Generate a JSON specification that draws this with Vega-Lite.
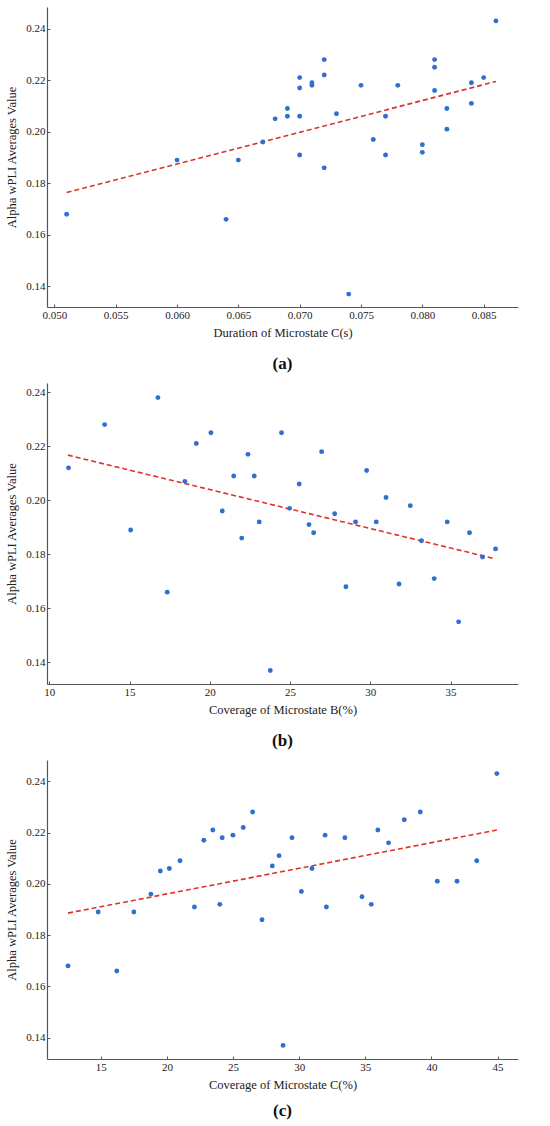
{
  "$schema": "https://vega.github.io/schema/vega-lite/v6.json",
  "padding": {"left": 5, "top": 7, "right": 5, "bottom": 5},
  "datasets": {
    "a": [
      {"x": 0.051, "y": 0.168}, {"x": 0.060, "y": 0.189}, {"x": 0.064, "y": 0.166}, {"x": 0.065, "y": 0.189},
      {"x": 0.067, "y": 0.196}, {"x": 0.068, "y": 0.205}, {"x": 0.069, "y": 0.209}, {"x": 0.069, "y": 0.206},
      {"x": 0.070, "y": 0.221}, {"x": 0.070, "y": 0.217}, {"x": 0.070, "y": 0.206}, {"x": 0.070, "y": 0.191},
      {"x": 0.071, "y": 0.219}, {"x": 0.071, "y": 0.218}, {"x": 0.072, "y": 0.228}, {"x": 0.072, "y": 0.222},
      {"x": 0.072, "y": 0.186}, {"x": 0.073, "y": 0.207}, {"x": 0.074, "y": 0.137}, {"x": 0.075, "y": 0.218},
      {"x": 0.076, "y": 0.197}, {"x": 0.077, "y": 0.206}, {"x": 0.077, "y": 0.191}, {"x": 0.078, "y": 0.218},
      {"x": 0.080, "y": 0.195}, {"x": 0.080, "y": 0.192}, {"x": 0.081, "y": 0.228}, {"x": 0.081, "y": 0.225},
      {"x": 0.081, "y": 0.216}, {"x": 0.082, "y": 0.209}, {"x": 0.082, "y": 0.201}, {"x": 0.084, "y": 0.219},
      {"x": 0.084, "y": 0.211}, {"x": 0.085, "y": 0.221}, {"x": 0.086, "y": 0.243}
    ],
    "fit_a": [{"x": 0.051, "y": 0.1764}, {"x": 0.086, "y": 0.2195}],
    "b": [
      {"x": 11.2, "y": 0.212}, {"x": 13.45, "y": 0.228}, {"x": 15.07, "y": 0.189}, {"x": 16.77, "y": 0.238},
      {"x": 17.35, "y": 0.166}, {"x": 18.45, "y": 0.207}, {"x": 19.16, "y": 0.221}, {"x": 20.07, "y": 0.225},
      {"x": 20.78, "y": 0.196}, {"x": 21.49, "y": 0.209}, {"x": 21.99, "y": 0.186}, {"x": 22.38, "y": 0.217},
      {"x": 22.77, "y": 0.209}, {"x": 23.08, "y": 0.192}, {"x": 23.77, "y": 0.137}, {"x": 24.47, "y": 0.225},
      {"x": 24.97, "y": 0.197}, {"x": 25.57, "y": 0.206}, {"x": 26.18, "y": 0.191}, {"x": 26.47, "y": 0.188},
      {"x": 26.97, "y": 0.218}, {"x": 27.78, "y": 0.195}, {"x": 28.48, "y": 0.168}, {"x": 29.08, "y": 0.192},
      {"x": 29.77, "y": 0.211}, {"x": 30.37, "y": 0.192}, {"x": 30.98, "y": 0.201}, {"x": 31.79, "y": 0.169},
      {"x": 32.49, "y": 0.198}, {"x": 33.19, "y": 0.185}, {"x": 33.98, "y": 0.171}, {"x": 34.79, "y": 0.192},
      {"x": 35.5, "y": 0.155}, {"x": 36.18, "y": 0.188}, {"x": 36.99, "y": 0.179}, {"x": 37.8, "y": 0.182}
    ],
    "fit_b": [{"x": 11.16, "y": 0.2167}, {"x": 37.8, "y": 0.1783}],
    "c": [
      {"x": 12.52, "y": 0.168}, {"x": 14.8, "y": 0.189}, {"x": 16.21, "y": 0.166}, {"x": 17.5, "y": 0.189},
      {"x": 18.79, "y": 0.196}, {"x": 19.5, "y": 0.205}, {"x": 20.18, "y": 0.206}, {"x": 20.99, "y": 0.209},
      {"x": 22.08, "y": 0.191}, {"x": 22.79, "y": 0.217}, {"x": 23.47, "y": 0.221}, {"x": 24.0, "y": 0.192},
      {"x": 24.18, "y": 0.218}, {"x": 24.99, "y": 0.219}, {"x": 25.77, "y": 0.222}, {"x": 26.48, "y": 0.228},
      {"x": 27.19, "y": 0.186}, {"x": 27.97, "y": 0.207}, {"x": 28.48, "y": 0.211}, {"x": 28.78, "y": 0.137},
      {"x": 29.46, "y": 0.218}, {"x": 30.17, "y": 0.197}, {"x": 30.97, "y": 0.206}, {"x": 31.96, "y": 0.219},
      {"x": 32.06, "y": 0.191}, {"x": 33.46, "y": 0.218}, {"x": 34.75, "y": 0.195}, {"x": 35.45, "y": 0.192},
      {"x": 35.95, "y": 0.221}, {"x": 36.76, "y": 0.216}, {"x": 37.95, "y": 0.225}, {"x": 39.16, "y": 0.228},
      {"x": 40.45, "y": 0.201}, {"x": 41.94, "y": 0.201}, {"x": 43.43, "y": 0.209}, {"x": 44.95, "y": 0.243}
    ],
    "fit_c": [{"x": 12.52, "y": 0.1886}, {"x": 44.95, "y": 0.221}]
  },
  "spacing": 11,
  "vconcat": [
    {
      "width": 471,
      "height": 300,
      "title": {"text": "(a)", "orient": "bottom"},
      "layer": [
        {
          "data": {"name": "fit_a"},
          "mark": {"type": "line", "color": "#e0302a", "strokeWidth": 1.6, "strokeDash": [5, 3]},
          "encoding": {
            "x": {"field": "x", "type": "quantitative"},
            "y": {"field": "y", "type": "quantitative"}
          }
        },
        {
          "data": {"name": "a"},
          "mark": {"type": "circle", "color": "#2f6fd2", "size": 24, "opacity": 1},
          "encoding": {
            "x": {"field": "x", "type": "quantitative"},
            "y": {"field": "y", "type": "quantitative"}
          }
        }
      ],
      "encoding": {
        "x": {
          "field": "x", "type": "quantitative",
          "scale": {"domain": [0.0494, 0.0878], "nice": false, "zero": false},
          "axis": {"values": [0.05, 0.055, 0.06, 0.065, 0.07, 0.075, 0.08, 0.085], "format": ".3f", "title": "Duration of Microstate C(s)"}
        },
        "y": {
          "field": "y", "type": "quantitative",
          "scale": {"domain": [0.132, 0.2484], "nice": false, "zero": false},
          "axis": {"values": [0.14, 0.16, 0.18, 0.2, 0.22, 0.24], "format": ".2f", "title": "Alpha wPLI Averages Value"}
        }
      }
    },
    {
      "width": 471,
      "height": 301,
      "title": {"text": "(b)", "orient": "bottom"},
      "layer": [
        {
          "data": {"name": "fit_b"},
          "mark": {"type": "line", "color": "#e0302a", "strokeWidth": 1.6, "strokeDash": [5, 3]},
          "encoding": {
            "x": {"field": "x", "type": "quantitative"},
            "y": {"field": "y", "type": "quantitative"}
          }
        },
        {
          "data": {"name": "b"},
          "mark": {"type": "circle", "color": "#2f6fd2", "size": 24, "opacity": 1},
          "encoding": {
            "x": {"field": "x", "type": "quantitative"},
            "y": {"field": "y", "type": "quantitative"}
          }
        }
      ],
      "encoding": {
        "x": {
          "field": "x", "type": "quantitative",
          "scale": {"domain": [9.86, 39.2], "nice": false, "zero": false},
          "axis": {"values": [10, 15, 20, 25, 30, 35], "format": "d", "title": "Coverage of Microstate B(%)"}
        },
        "y": {
          "field": "y", "type": "quantitative",
          "scale": {"domain": [0.132, 0.2434], "nice": false, "zero": false},
          "axis": {"values": [0.14, 0.16, 0.18, 0.2, 0.22, 0.24], "format": ".2f", "title": "Alpha wPLI Averages Value"}
        }
      }
    },
    {
      "width": 471,
      "height": 299,
      "title": {"text": "(c)", "orient": "bottom", "offset": 12},
      "layer": [
        {
          "data": {"name": "fit_c"},
          "mark": {"type": "line", "color": "#e0302a", "strokeWidth": 1.6, "strokeDash": [5, 3]},
          "encoding": {
            "x": {"field": "x", "type": "quantitative"},
            "y": {"field": "y", "type": "quantitative"}
          }
        },
        {
          "data": {"name": "c"},
          "mark": {"type": "circle", "color": "#2f6fd2", "size": 24, "opacity": 1},
          "encoding": {
            "x": {"field": "x", "type": "quantitative"},
            "y": {"field": "y", "type": "quantitative"}
          }
        }
      ],
      "encoding": {
        "x": {
          "field": "x", "type": "quantitative",
          "scale": {"domain": [10.93, 46.55], "nice": false, "zero": false},
          "axis": {"values": [15, 20, 25, 30, 35, 40, 45], "format": "d", "title": "Coverage of Microstate C(%)"}
        },
        "y": {
          "field": "y", "type": "quantitative",
          "scale": {"domain": [0.1317, 0.2483], "nice": false, "zero": false},
          "axis": {"values": [0.14, 0.16, 0.18, 0.2, 0.22, 0.24], "format": ".2f", "title": "Alpha wPLI Averages Value"}
        }
      }
    }
  ],
  "config": {
    "font": "Liberation Serif",
    "view": {"stroke": null},
    "axis": {
      "grid": false,
      "domainColor": "#555555",
      "domainWidth": 1.2,
      "tickColor": "#555555",
      "tickSize": -3,
      "labelFont": "Liberation Serif",
      "labelFontSize": 11,
      "labelColor": "#222222",
      "labelPadding": 5,
      "titleFont": "Liberation Serif",
      "titleFontSize": 12.5,
      "titleFontWeight": "normal",
      "titleColor": "#222222"
    },
    "axisX": {"titlePadding": 6},
    "axisY": {"titlePadding": 7},
    "title": {
      "font": "Liberation Serif",
      "fontSize": 17,
      "fontWeight": "bold",
      "color": "#111111",
      "offset": 17
    }
  }
}
